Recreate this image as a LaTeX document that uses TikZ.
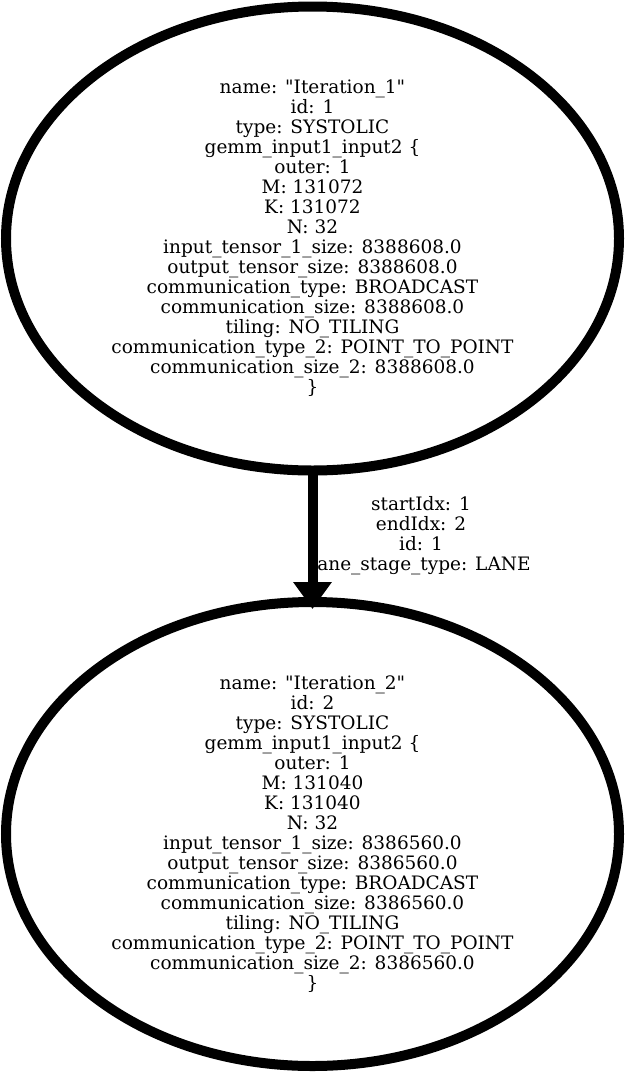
\documentclass[tikz,border=0pt]{standalone}
\usepackage{fontspec}
\setmainfont{DejaVu Serif}[Ligatures=TeXOff]
\usetikzlibrary{arrows.meta,shapes.geometric}
\tikzset{
  iter/.style={draw,ellipse,line width=10pt,minimum width=613pt,minimum height=464pt,
    inner sep=0pt,outer sep=0pt,align=center,font=\fontsize{18.5}{20}\selectfont},
  elabel/.style={align=center,font=\fontsize{18.5}{20}\selectfont},
}
\begin{document}
\begin{tikzpicture}[x=1pt,y=-1pt]
  \useasboundingbox (0,0) rectangle (625,1074);
 %top ellipse
  \node[iter] (it1) at (312.5,238.5) {name: "Iteration\_1"\\ id: 1\\ type: SYSTOLIC\\
    gemm\_input1\_input2 \{\\ outer: 1\\ M: 131072\\ K: 131072\\ N: 32\\
    input\_tensor\_1\_size: 8388608.0\\ output\_tensor\_size: 8388608.0\\
    communication\_type: BROADCAST\\ communication\_size: 8388608.0\\
    tiling: NO\_TILING\\ communication\_type\_2: POINT\_TO\_POINT\\
    communication\_size\_2: 8388608.0\\ \}};
 %bottom ellipse
  \node[iter] (it2) at (312.5,834) {name: "Iteration\_2"\\ id: 2\\ type: SYSTOLIC\\
    gemm\_input1\_input2 \{\\ outer: 1\\ M: 131040\\ K: 131040\\ N: 32\\
    input\_tensor\_1\_size: 8386560.0\\ output\_tensor\_size: 8386560.0\\
    communication\_type: BROADCAST\\ communication\_size: 8386560.0\\
    tiling: NO\_TILING\\ communication\_type\_2: POINT\_TO\_POINT\\
    communication\_size\_2: 8386560.0\\ \}};
 %edge label, then the edge over it
  \node[elabel] (lab) at (421,536) {startIdx: 1\\ endIdx: 2\\ id: 1\\ lane\_stage\_type: LANE};
  \draw[line width=10pt,-{Triangle[length=27pt,width=37pt]},shorten >=-7pt] (it1) -- (it2);
\end{tikzpicture}
\end{document}
